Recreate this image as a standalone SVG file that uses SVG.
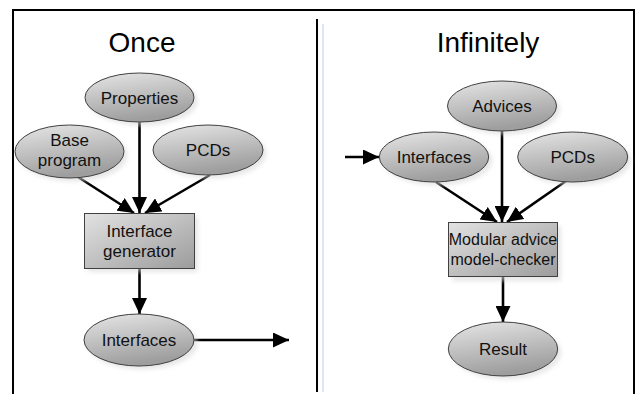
<svg xmlns="http://www.w3.org/2000/svg" width="636" height="394" viewBox="0 0 636 394">
<defs>
<linearGradient id="eg" x1="0" y1="0" x2="0.3" y2="1">
<stop offset="0" stop-color="#e6e6e6"/>
<stop offset="1" stop-color="#9e9e9e"/>
</linearGradient>
<linearGradient id="rg" x1="0" y1="0" x2="1" y2="1">
<stop offset="0" stop-color="#e2e2e2"/>
<stop offset="1" stop-color="#9c9c9c"/>
</linearGradient>
<filter id="sh" x="-20%" y="-20%" width="150%" height="150%">
<feGaussianBlur stdDeviation="2"/>
</filter>
<marker id="ah" viewBox="0 0 16 15" refX="16" refY="7.5" markerWidth="16" markerHeight="15" markerUnits="userSpaceOnUse" orient="auto">
<path d="M0,0 L16,7.5 L0,15 z" fill="#000"/>
</marker>
</defs>
<style>
.n{fill:url(#eg);stroke:#404040;stroke-width:1}
.r{fill:url(#rg);stroke:#404040;stroke-width:1}
.s{fill:#d8d8d8;filter:url(#sh);opacity:0.6}
.t{font-family:"Liberation Sans",Arial,sans-serif;font-size:17px;fill:#111;text-anchor:middle}
.h{font-family:"Liberation Sans",Arial,sans-serif;font-size:28px;fill:#000;text-anchor:middle}
.c{stroke:#000;stroke-width:2.6;fill:none}
</style>
<rect width="636" height="394" fill="#fff"/>
<path d="M13,394 V10 H634 V394" fill="none" stroke="#000" stroke-width="2"/>
<line x1="323" y1="24" x2="323" y2="392" stroke="#dce6f4" stroke-width="2"/>
<line x1="317" y1="19" x2="317" y2="392" stroke="#000" stroke-width="2"/>
<text class="h" x="142" y="52">Once</text>
<text class="h" x="488" y="52">Infinitely</text>

<g id="connectors">
<line class="c" x1="139.5" y1="122" x2="139.5" y2="213" marker-end="url(#ah)"/>
<line class="c" x1="78" y1="177" x2="134" y2="213" marker-end="url(#ah)"/>
<line class="c" x1="210" y1="175" x2="145" y2="213" marker-end="url(#ah)"/>
<line class="c" x1="139.5" y1="268" x2="139.5" y2="314" marker-end="url(#ah)"/>
<line class="c" x1="194" y1="340" x2="289" y2="340" marker-end="url(#ah)"/>
<line class="c" x1="345" y1="157" x2="379" y2="157" marker-end="url(#ah)"/>
<line class="c" x1="502" y1="131" x2="502" y2="222" marker-end="url(#ah)"/>
<line class="c" x1="436" y1="182" x2="497" y2="222" marker-end="url(#ah)"/>
<line class="c" x1="566" y1="181" x2="507" y2="222" marker-end="url(#ah)"/>
<line class="c" x1="503" y1="277" x2="503" y2="322" marker-end="url(#ah)"/>
</g>

<g id="properties">
<ellipse class="s" cx="143" cy="101" rx="54.5" ry="24.5"/>
<ellipse class="n" cx="139.5" cy="97.5" rx="54.5" ry="24.5"/>
<text class="t" x="139.5" y="103.5">Properties</text>
</g>
<g id="base-program">
<ellipse class="s" cx="73" cy="155" rx="54.5" ry="26.5"/>
<ellipse class="n" cx="69.5" cy="151.5" rx="54.5" ry="26.5"/>
<text class="t" x="69.5" y="146">Base</text>
<text class="t" x="69.5" y="166">program</text>
</g>
<g id="pcds-left">
<ellipse class="s" cx="211.5" cy="153.5" rx="55" ry="25"/>
<ellipse class="n" cx="208" cy="150" rx="55" ry="25"/>
<text class="t" x="208" y="156">PCDs</text>
</g>
<g id="interface-generator">
<rect class="s" x="88" y="217" width="110" height="55"/>
<rect class="r" x="84.5" y="213.5" width="110" height="55"/>
<text class="t" x="139.5" y="237">Interface</text>
<text class="t" x="139.5" y="257">generator</text>
</g>
<g id="interfaces-left">
<ellipse class="s" cx="142.5" cy="343.5" rx="55" ry="26"/>
<ellipse class="n" cx="139" cy="340" rx="55" ry="26"/>
<text class="t" x="139" y="346">Interfaces</text>
</g>

<g id="advices">
<ellipse class="s" cx="505.5" cy="109.5" rx="54.5" ry="25"/>
<ellipse class="n" cx="502" cy="106" rx="54.5" ry="25"/>
<text class="t" x="502" y="112">Advices</text>
</g>
<g id="interfaces-right">
<ellipse class="s" cx="437.5" cy="160.5" rx="54.7" ry="25"/>
<ellipse class="n" cx="434" cy="157" rx="54.7" ry="25"/>
<text class="t" x="434" y="163">Interfaces</text>
</g>
<g id="pcds-right">
<ellipse class="s" cx="576" cy="160.5" rx="55" ry="25"/>
<ellipse class="n" cx="572.7" cy="157" rx="55" ry="25"/>
<text class="t" x="572.7" y="163">PCDs</text>
</g>
<g id="modular-advice-model-checker">
<rect class="s" x="452" y="226" width="109" height="55"/>
<rect class="r" x="448.5" y="222.5" width="109" height="54"/>
<text class="t" x="503" y="245" style="font-size:16px">Modular advice</text>
<text class="t" x="503" y="265" style="font-size:16px">model-checker</text>
</g>
<g id="result">
<ellipse class="s" cx="506.5" cy="352.5" rx="54.7" ry="27"/>
<ellipse class="n" cx="503" cy="349" rx="54.7" ry="27"/>
<text class="t" x="503" y="355">Result</text>
</g>
</svg>
